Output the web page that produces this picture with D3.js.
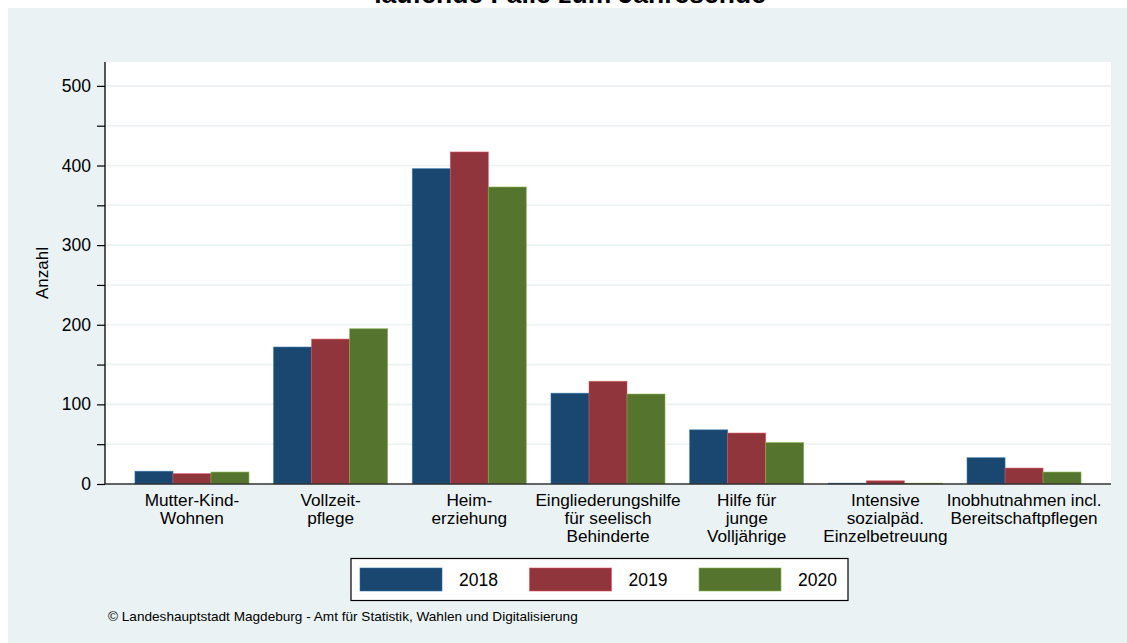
<!DOCTYPE html>
<html>
<head>
<meta charset="utf-8">
<script src="https://cdn.jsdelivr.net/npm/d3@7"></script>
<style>
  html, body { margin: 0; padding: 0; background: #ffffff; }
  svg { display: block; font-family: "Liberation Sans", Arial, Helvetica, sans-serif; }
</style>
</head>
<body>
<svg id="chart" width="1127" height="643"></svg>
<script>
const title = "laufende Fälle zum Jahresende";
const categories = [
  ["Mutter-Kind-", "Wohnen"],
  ["Vollzeit-", "pflege"],
  ["Heim-", "erziehung"],
  ["Eingliederungshilfe", "für seelisch", "Behinderte"],
  ["Hilfe für", "junge", "Volljährige"],
  ["Intensive", "sozialpäd.", "Einzelbetreuung"],
  ["Inobhutnahmen incl.", "Bereitschaftpflegen"]
];
const years = ["2018", "2019", "2020"];
const values2018 = [16, 172, 396, 114, 68, 1, 33];
const values2019 = [13, 182, 417, 129, 64, 4, 20];
const values2020 = [15, 195, 373, 113, 52, 1, 15];
const yMajorTicks = [0, 100, 200, 300, 400, 500];
const yMinorTicks = [50, 150, 250, 350, 450];
const yLabel = "Anzahl";
const footnote = "©  Landeshauptstadt Magdeburg - Amt für Statistik, Wahlen und Digitalisierung";
const colors = ["#1a476f", "#90353b", "#55752f"];

const series = [values2018, values2019, values2020];
const catKeys = categories.map(c => c.join(" "));

const svg = d3.select("#chart");
const W = 1127, H = 643;

// outer background
svg.append("rect").attr("x", 0).attr("y", 0).attr("width", W).attr("height", H).attr("fill", "#ffffff");
svg.append("rect").attr("x", 8).attr("y", 8).attr("width", W - 8).attr("height", H - 8).attr("fill", "#eaf2f3");

// title (cut off at top, as in the reference)
svg.append("text").attr("x", 570).attr("y", 3).attr("text-anchor", "middle")
  .attr("font-size", 26.5).attr("font-weight", "bold").attr("fill", "#000").text(title);

const plot = { left: 105, right: 1111, top: 62, bottom: 484 };

svg.append("rect").attr("x", plot.left).attr("y", plot.top)
  .attr("width", plot.right - plot.left).attr("height", plot.bottom - plot.top).attr("fill", "#ffffff");

const y = d3.scaleLinear().domain([0, 530]).range([plot.bottom, plot.top]);
const x0 = d3.scaleBand().domain(catKeys).range([plot.left, plot.right]).paddingInner(0.178).paddingOuter(0.216);
const x1 = d3.scaleBand().domain(years).range([0, x0.bandwidth()]).padding(0);

// gridlines
svg.append("g").selectAll("line").data(yMajorTicks.concat(yMinorTicks).filter(v => v > 0))
  .join("line")
  .attr("x1", plot.left).attr("x2", plot.right)
  .attr("y1", d => y(d)).attr("y2", d => y(d))
  .attr("stroke", "#eaf2f3").attr("stroke-width", 1.6);

// bars
const groups = svg.append("g").selectAll("g").data(catKeys).join("g")
  .attr("transform", d => `translate(${x0(d)},0)`);
groups.selectAll("rect").data((d, i) => years.map((yr, j) => ({ yr, j, v: series[j][i] })))
  .join("rect")
  .attr("x", d => x1(d.yr))
  .attr("y", d => y(d.v))
  .attr("width", x1.bandwidth())
  .attr("height", d => y(0) - y(d.v))
  .attr("fill", d => colors[d.j])
  .attr("stroke", d => d3.color(colors[d.j]).brighter(1.2))
  .attr("stroke-width", 0.8)
  .attr("stroke-opacity", 0.7);

// y axis
const yAxis = d3.axisLeft(y).tickValues(yMajorTicks).tickSize(8).tickPadding(6).tickFormat(d3.format("d"));
const yG = svg.append("g").attr("transform", `translate(${plot.left},0)`).call(yAxis);
yG.select(".domain").attr("d", `M0,${plot.top}V${plot.bottom}`).attr("stroke", "#000").attr("stroke-width", 1.3);
yG.selectAll(".tick line").attr("stroke", "#000").attr("stroke-width", 1.2);
yG.selectAll(".tick text").attr("font-size", 17.5).attr("fill", "#000")
  .attr("font-family", "'Liberation Sans', Arial, sans-serif");

const yMinor = d3.axisLeft(y).tickValues(yMinorTicks).tickSize(8).tickFormat("");
const yMinorG = svg.append("g").attr("transform", `translate(${plot.left},0)`).call(yMinor);
yMinorG.select(".domain").remove();
yMinorG.selectAll(".tick line").attr("stroke", "#000").attr("stroke-width", 1.2);

// bottom axis line
svg.append("line").attr("x1", plot.left).attr("x2", plot.right)
  .attr("y1", plot.bottom).attr("y2", plot.bottom)
  .attr("stroke", "#333").attr("stroke-width", 1.5);

// y label
svg.append("text").attr("transform", `translate(48,${(plot.top + plot.bottom) / 2}) rotate(-90)`)
  .attr("text-anchor", "middle").attr("font-size", 17).attr("fill", "#000").text(yLabel);

// category labels
const catG = svg.append("g");
categories.forEach((lines, i) => {
  const cx = x0(catKeys[i]) + x0.bandwidth() / 2;
  const t = catG.append("text").attr("text-anchor", "middle").attr("font-size", 17.2).attr("fill", "#000");
  lines.forEach((ln, k) => {
    t.append("tspan").attr("x", cx).attr("y", 505.5 + k * 18).text(ln);
  });
});

// legend
const lg = svg.append("g");
lg.append("rect").attr("x", 351).attr("y", 558.5).attr("width", 497).attr("height", 42)
  .attr("fill", "#ffffff").attr("stroke", "#000").attr("stroke-width", 1.2);
years.forEach((yr, j) => {
  const sx = 360 + j * 169.5;
  lg.append("rect").attr("x", sx).attr("y", 568).attr("width", 82).attr("height", 23)
    .attr("fill", colors[j]).attr("stroke", d3.color(colors[j]).brighter(1.2)).attr("stroke-width", 0.8).attr("stroke-opacity", 0.7);
  lg.append("text").attr("x", sx + 99).attr("y", 586).attr("font-size", 17.5).attr("fill", "#000").text(yr);
});

// footnote
svg.append("text").attr("x", 108).attr("y", 621).attr("font-size", 13.6).attr("fill", "#000").text(footnote);
</script>
</body>
</html>
